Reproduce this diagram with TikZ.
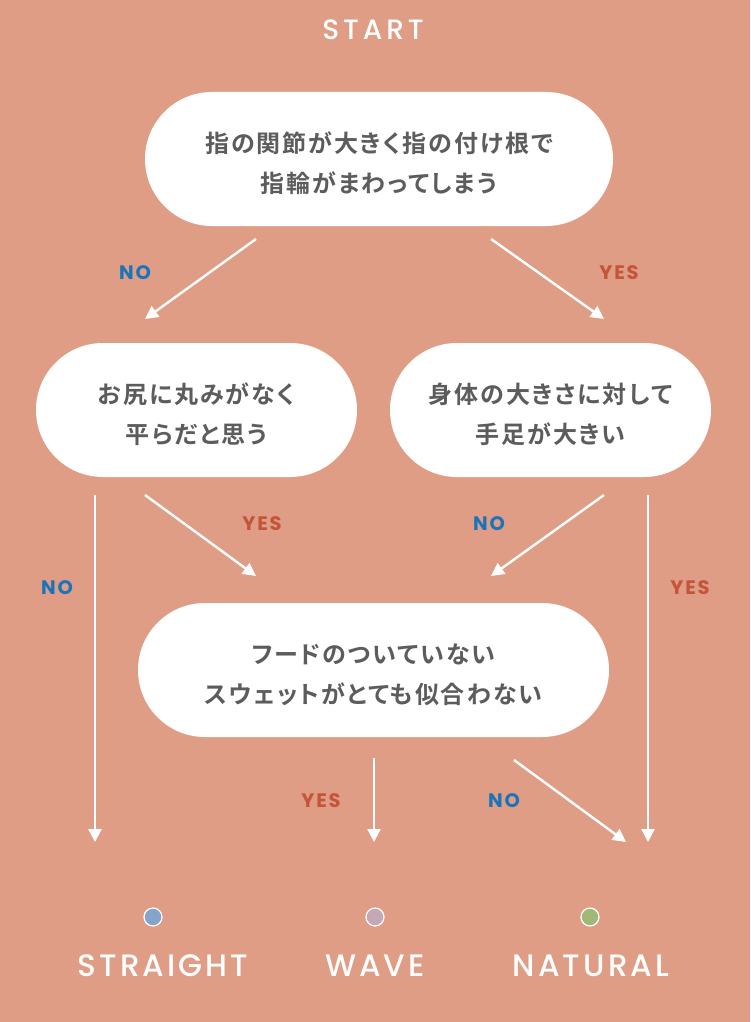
\documentclass[tikz,border=0pt]{standalone}
\usepackage{fontspec}
\usepackage{xcolor}
\usetikzlibrary{arrows.meta}
\newfontfamily\jpfont{Noto Sans CJK JP}[BoldFont=* Bold, LetterSpace=8, RawFeature=+palt]
\newfontfamily\enfont{Poppins}[UprightFont=* Medium, BoldFont=* SemiBold, LetterSpace=10]
\newfontfamily\startfont{Poppins}[UprightFont=* Medium, LetterSpace=14]
\newfontfamily\labelfont{Poppins}[UprightFont=* Bold, LetterSpace=9]
\newcommand{\qstrut}{\rule{0pt}{29pt}}
\definecolor{bgsalmon}{HTML}{E09D85}
\definecolor{textgrey}{HTML}{5C5C5C}
\definecolor{noblue}{HTML}{1A74BA}
\definecolor{yesred}{HTML}{C4543A}
\definecolor{dotstraight}{HTML}{84A4C9}
\definecolor{dotwave}{HTML}{C5A8B5}
\definecolor{dotnatural}{HTML}{A2B877}

\begin{document}
\begin{tikzpicture}[x=1pt, y=-1pt,
  q/.style={fill=white, rounded corners=67pt, minimum height=134pt, text=textgrey, align=center, font=\jpfont\bfseries\fontsize{24}{40}\selectfont},
  arr/.style={draw=white, line width=2.4pt, -{Triangle[width=13pt,length=13pt]}},
  no/.style={text=noblue, font=\labelfont\fontsize{19.5}{19.5}\selectfont},
  yes/.style={no, text=yesred},
  dot/.style={circle, draw=white, line width=1.2pt, minimum size=18pt, inner sep=0pt},
  res/.style={text=white, font=\enfont\fontsize{31}{31}\selectfont}]
		\fill[bgsalmon] (0,0) rectangle (750,1022);
		\useasboundingbox (0,0) rectangle (750,1022);
		\node[text=white, font=\startfont\fontsize{28}{28}\selectfont] (start) at (373,30) {START};
		% questions
		\node[q, minimum width=468pt] (hand) at (379,159) {\qstrut 指の関節が大きく指の付け根で\\指輪がまわってしまう};
		\node[q, minimum width=321pt] (hip) at (196.5,410) {\qstrut お尻に丸みがなく\\平らだと思う};
		\node[q, minimum width=321pt] (limb) at (550.5,410) {\qstrut 身体の大きさに対して\\手足が大きい};
		\node[q, minimum width=471pt] (hood) at (373.5,670) {\qstrut フードのついていない\\スウェットがとても似合わない};
		% results
		\node[dot, fill=dotstraight] (straight) at (153,917) {};
		\node[res] (straight-t) at (163,966) {STRAIGHT};
		\node[dot, fill=dotwave] (wave) at (375,917) {};
		\node[res] (wave-t) at (375,966) {WAVE};
		\node[dot, fill=dotnatural] (natural) at (590,917) {};
		\node[res] (natural-t) at (591,966) {NATURAL};
		% arrow ends
		\coordinate (hand-no) at (256,239);
		\coordinate (hand-yes) at (491,239);
		\coordinate (hip-in) at (145,319);
		\coordinate (limb-in) at (604,319);
		\coordinate (hip-no) at (95,495);
		\coordinate (hip-yes) at (145,495);
		\coordinate (limb-no) at (604,495);
		\coordinate (limb-yes) at (648,495);
		\coordinate (hood-in1) at (256,576);
		\coordinate (hood-in2) at (491,576);
		\coordinate (hood-yes) at (374,758);
		\coordinate (hood-no) at (514,760);
		\coordinate (straight-in) at (95,842);
		\coordinate (wave-in) at (374,842);
		\coordinate (natural-in1) at (626,842);
		\coordinate (natural-in2) at (648,842);
		% connectors
		\draw[arr] (hand-no) -- (hip-in);
		\draw[arr] (hand-yes) -- (limb-in);
		\draw[arr] (hip-no) -- (straight-in);
		\draw[arr] (hip-yes) -- (hood-in1);
		\draw[arr] (limb-no) -- (hood-in2);
		\draw[arr] (limb-yes) -- (natural-in2);
		\draw[arr] (hood-yes) -- (wave-in);
		\draw[arr] (hood-no) -- (natural-in1);
		% labels
		\node[no] (l1) at (135,273) {NO};
		\node[yes] (l2) at (619,273) {YES};
		\node[no] (l3) at (57,588) {NO};
		\node[yes] (l4) at (262,524) {YES};
		\node[no] (l5) at (489,524) {NO};
		\node[yes] (l6) at (690,588) {YES};
		\node[yes] (l7) at (321,801) {YES};
		\node[no] (l8) at (504,801) {NO};
	\end{tikzpicture}
\end{document}
